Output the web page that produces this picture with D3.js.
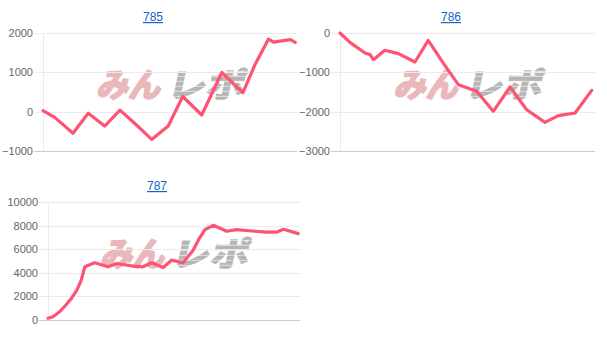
<!DOCTYPE html>
<html>
<head>
<meta charset="utf-8">
<script src="https://cdn.jsdelivr.net/npm/d3@7"></script>
<style>
  html, body { margin: 0; padding: 0; background: #ffffff; }
  svg { display: block; }
</style>
</head>
<body>
<svg id="chart" width="607" height="353"></svg>
<script>
// Machine numbers shown as chart titles
const titles = ["785", "786", "787"];

// Progress through the day (0-100) and cumulative difference for each machine
const progress785 = [0, 4.6, 11.8, 17.8, 24.3, 30.3, 36.8, 42.8, 49.3, 55, 62.5, 70.4, 78.7, 83.5, 88.8, 90.8, 97.4, 99.3];
const diff785     = [25, -145, -550, -40, -365, 40, -340, -705, -365, 385, -85, 995, 485, 1200, 1845, 1770, 1830, 1760];

const progress786 = [0, 3.9, 9.8, 11.8, 13.1, 17.6, 22.9, 29.4, 34.6, 40.5, 46.4, 53.6, 60.1, 66.7, 73.2, 80.4, 85.6, 92.2, 98.7];
const diff786     = [0, -237, -508, -550, -678, -440, -525, -737, -186, -763, -1314, -1483, -1992, -1373, -1950, -2271, -2102, -2034, -1458];

const progress787 = [0, 2, 4.6, 7, 9.3, 11.5, 13.2, 14.6, 18.5, 23.8, 27.2, 33.8, 37.7, 41.1, 45.7, 49, 53.6, 57.6, 60, 62.3, 65.6, 70.9, 74.8, 82.1, 86.8, 90.7, 93.4, 99.3];
const diff787     = [140, 280, 700, 1250, 1830, 2550, 3380, 4510, 4850, 4510, 4790, 4560, 4510, 4850, 4450, 5070, 4850, 5920, 6900, 7660, 8030, 7520, 7660, 7520, 7440, 7440, 7690, 7320];

// Y axis tick values
const ticks785 = [-1000, 0, 1000, 2000];
const ticks786 = [-3000, -2000, -1000, 0];
const ticks787 = [0, 2000, 4000, 6000, 8000, 10000];

// Panel layout (pixel boxes of each plot area)
const panels = [
  { title: titles[0], xs: progress785, ys: diff785, ticks: ticks785, domain: [-1000, 2000],
    x0: 43, x1: 297, yTop: 33, yBot: 151, titleX: 153, titleY: 21 },
  { title: titles[1], xs: progress786, ys: diff786, ticks: ticks786, domain: [-3000, 0],
    x0: 340, x1: 595, yTop: 33, yBot: 151, titleX: 451, titleY: 21 },
  { title: titles[2], xs: progress787, ys: diff787, ticks: ticks787, domain: [0, 10000],
    x0: 48, x1: 300, yTop: 202, yBot: 320, titleX: 157, titleY: 190 }
];

const svg = d3.select("#chart");

// Striped fill for the grey half of the logo
const defs = svg.append("defs");
const stripes = defs.append("pattern")
  .attr("id", "logoStripes")
  .attr("patternUnits", "userSpaceOnUse")
  .attr("width", 6).attr("height", 5);
stripes.append("rect").attr("width", 6).attr("height", 5).attr("fill", "#b6b6b6");
stripes.append("rect").attr("y", 4).attr("width", 6).attr("height", 1).attr("fill", "#dedede");

panels.forEach(p => {
  const g = svg.append("g");

  const x = d3.scaleLinear().domain([0, 100]).range([p.x0, p.x1]);
  const y = d3.scaleLinear().domain(p.domain).range([p.yBot, p.yTop]);

  // Title (link style)
  g.append("text")
    .attr("x", p.titleX).attr("y", p.titleY)
    .attr("text-anchor", "middle")
    .attr("font-family", "Arial, 'Liberation Sans', sans-serif")
    .attr("font-size", 12)
    .attr("fill", "#1565c8")
    .attr("text-decoration", "underline")
    .text(p.title);

  // Background logo
  const cx = (p.x0 + p.x1) / 2;
  const base = (p.yTop + p.yBot) / 2 + 5;
  const logo = g.append("g")
    .attr("font-family", "'Noto Sans CJK JP', sans-serif")
    .attr("font-weight", "bold")
    .attr("font-size", 33)
    .attr("transform", `translate(${cx},${base}) skewX(-12)`);
  logo.append("text")
    .attr("x", -74).attr("y", 0)
    .attr("fill", "#eab7ba")
    .attr("stroke", "#eab7ba")
    .attr("stroke-width", 2.2)
    .attr("stroke-linejoin", "round")
    .attr("textLength", 64)
    .attr("lengthAdjust", "spacingAndGlyphs")
    .text("みん");
  logo.append("text")
    .attr("x", -4).attr("y", 0)
    .attr("fill", "url(#logoStripes)")
    .attr("stroke", "url(#logoStripes)")
    .attr("stroke-width", 1.6)
    .attr("textLength", 78)
    .attr("lengthAdjust", "spacingAndGlyphs")
    .text("レポ");

  // Gridlines with short left ticks
  const last = p.ticks[0];
  g.selectAll("line.grid")
    .data(p.ticks)
    .join("line")
    .attr("class", "grid")
    .attr("x1", p.x0 - 9).attr("x2", p.x1)
    .attr("y1", d => Math.round(y(d)) + 0.5)
    .attr("y2", d => Math.round(y(d)) + 0.5)
    .attr("stroke", d => d === last ? "#cccccc" : "#ebebeb")
    .attr("stroke-width", 1);

  // Left axis line
  g.append("line")
    .attr("x1", p.x0 + 0.5).attr("x2", p.x0 + 0.5)
    .attr("y1", p.yTop).attr("y2", p.yBot)
    .attr("stroke", "#ebebeb");

  // Y axis labels
  const axis = d3.axisLeft(y).tickValues(p.ticks).tickSize(0).tickPadding(0).tickFormat(d3.format("d"));
  const ag = g.append("g")
    .attr("transform", `translate(${p.x0 - 10},0)`)
    .call(axis);
  ag.select(".domain").remove();
  ag.selectAll("text")
    .attr("font-family", "Arial, 'Liberation Sans', sans-serif")
    .attr("font-size", 11)
    .attr("fill", "#666666");

  // Data line
  const pts = p.xs.map((v, i) => [v, p.ys[i]]);
  const line = d3.line().x(d => x(d[0])).y(d => y(d[1]));
  g.append("path")
    .datum(pts)
    .attr("d", line)
    .attr("fill", "none")
    .attr("stroke", "#ff5373")
    .attr("stroke-width", 3.2)
    .attr("stroke-linejoin", "round")
    .attr("stroke-linecap", "round");
});
</script>
</body>
</html>
